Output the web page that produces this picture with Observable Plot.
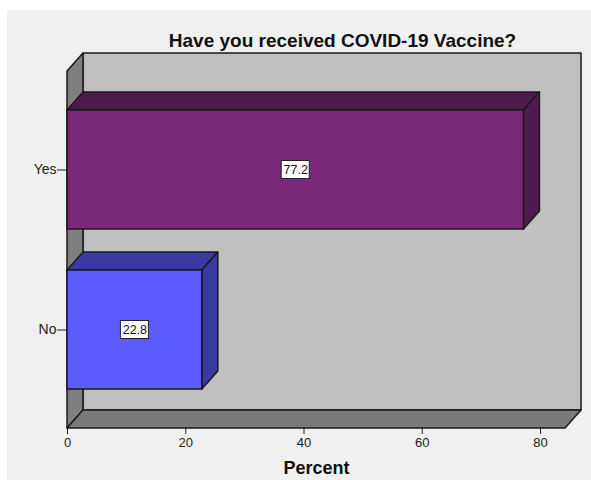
<!DOCTYPE html>
<html>
<head>
<meta charset="utf-8">
<script src="https://cdn.jsdelivr.net/npm/d3@7"></script>
<script src="https://cdn.jsdelivr.net/npm/@observablehq/plot@0.6"></script>
<style>
  html, body { margin: 0; padding: 0; background: #ffffff; }
  #chart { position: relative; width: 591px; height: 480px; overflow: hidden; }
  #panel { position: absolute; left: 7px; top: 10px; right: 0; bottom: 0; background: #f0f0f0; }
  #chart svg { position: absolute; left: 0; top: 0; }
</style>
</head>
<body>
<div id="chart"><div id="panel"></div></div>
<script>
// Survey answers and their share of respondents (percent)
const categories = ["Yes", "No"];
const percents = [77.2, 22.8];
const xTicks = [0, 20, 40, 60, 80];
const titleText = "Have you received COVID-19 Vaccine?";
const xLabel = "Percent";

// Face colours for each answer
const barColors = ["#7b2878", "#5b5bff"];

const rows = categories.map((category, i) => ({category, percent: percents[i]}));

const EDGE = "#1a1a1a";
const DEPTH = [16, -18]; // pixel offset of the receding faces
const FONT = "'Liberation Sans', Arial, Helvetica, sans-serif";

const shadeOf = c => d3.color(c).darker(1.25).formatHex();

function polygon(g, pts, fill) {
  g.append("path")
    .attr("d", "M" + pts.map(p => p.join(",")).join("L") + "Z")
    .attr("fill", fill);
}

// Back wall, left wall and floor of the 3D box
function chartBox(index, scales, values, dims) {
  const {x} = scales;
  const [dx, dy] = DEPTH;
  const x0 = x(0), x1 = dims.width - dims.marginRight;
  const y0 = dims.marginTop, y1 = dims.height - dims.marginBottom;
  const g = d3.create("svg:g")
    .attr("stroke", EDGE).attr("stroke-width", 1.5).attr("stroke-linejoin", "round");
  polygon(g, [[x0 + dx, y0 + dy], [x1 + dx, y0 + dy], [x1 + dx, y1 + dy], [x0 + dx, y1 + dy]], "#c0c0c0");
  polygon(g, [[x0, y0], [x0 + dx, y0 + dy], [x0 + dx, y1 + dy], [x0, y1]], "#7f7f7f");
  polygon(g, [[x0, y1], [x0 + dx, y1 + dy], [x1 + dx, y1 + dy], [x1, y1]], "#7a7a7a");
  return g.node();
}

// Top and right-hand faces of each bar
function barDepth(index, scales) {
  const {x, y, color} = scales;
  const [dx, dy] = DEPTH;
  const bw = y.bandwidth();
  const g = d3.create("svg:g")
    .attr("stroke", EDGE).attr("stroke-width", 1.5).attr("stroke-linejoin", "round");
  for (const d of rows) {
    const xa = x(0), xb = x(d.percent);
    const ya = y(d.category), yb = ya + bw;
    const shade = shadeOf(color(d.category));
    polygon(g, [[xa, ya], [xa + dx, ya + dy], [xb + dx, ya + dy], [xb, ya]], shade);
    polygon(g, [[xb, ya], [xb + dx, ya + dy], [xb + dx, yb + dy], [xb, yb]], shade);
  }
  return g.node();
}

// White boxes behind the value labels
function labelBoxes(index, scales) {
  const {x, y} = scales;
  const bw = y.bandwidth();
  const g = d3.create("svg:g").attr("fill", "#ffffff").attr("stroke", "#222").attr("stroke-width", 1);
  for (const d of rows) {
    const cx = x(d.percent / 2), cy = y(d.category) + bw / 2;
    const w = 28, h = 18;
    g.append("rect").attr("x", cx - w / 2).attr("y", cy - h / 2).attr("width", w).attr("height", h);
  }
  return g.node();
}

const chart = Plot.plot({
  width: 591,
  height: 480,
  marginLeft: 67,
  marginRight: 26,
  marginTop: 71,
  marginBottom: 52,
  style: {background: "transparent", fontFamily: FONT, fontSize: "13px", color: "#222"},
  x: {domain: [0, 80], range: [67, 540]},
  y: {domain: categories, paddingInner: 0.255, paddingOuter: 0.24},
  color: {domain: categories, range: barColors},
  marks: [
    chartBox,
    Plot.axisX({ticks: xTicks, tickSize: 6, tickPadding: 3, fontSize: 13, tickFormat: d => String(d), label: null, stroke: "#222"}),
    Plot.axisY({tickSize: 10, tickPadding: 1, fontSize: 14, label: null, stroke: "#222"}),
    barDepth,
    Plot.barX(rows, {x: "percent", y: "category", fill: "category", stroke: EDGE, strokeWidth: 1.5}),
    labelBoxes,
    Plot.text(rows, {x: d => d.percent / 2, y: "category", text: d => d.percent.toFixed(1), fontSize: 12.5, fill: "#111"}),
    Plot.text([titleText], {text: d => d, frameAnchor: "top", lineAnchor: "middle", dx: 26, dy: -31, fontSize: 19, fontWeight: "bold", fill: "#111"}),
    Plot.text([xLabel], {text: d => d, frameAnchor: "bottom", lineAnchor: "middle", dy: 40, fontSize: 18, fontWeight: "bold", fill: "#111"})
  ]
});

document.getElementById("chart").appendChild(chart);
</script>
</body>
</html>
